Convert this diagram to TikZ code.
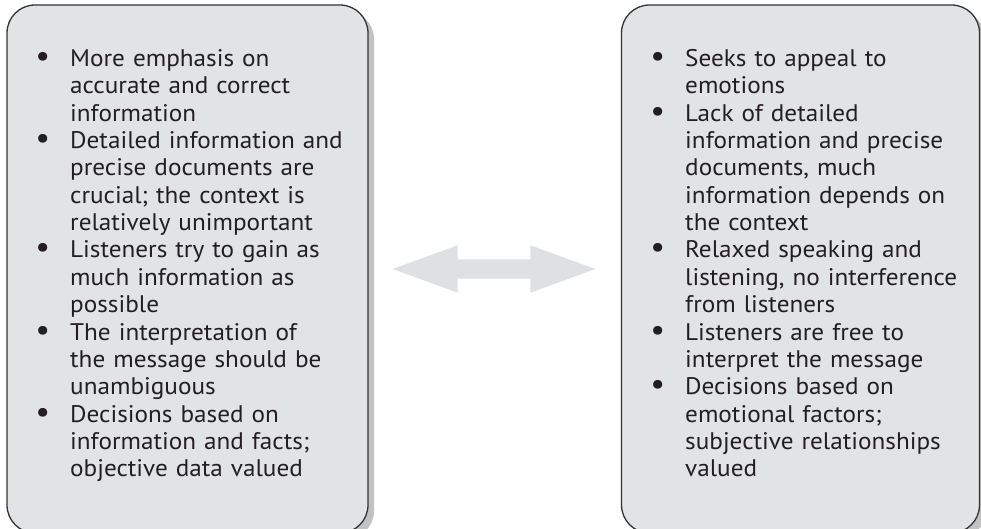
\documentclass[tikz,border=0pt]{standalone}
\usepackage{fontspec}
\setmainfont[FakeStretch=1.05]{PT Sans}
\usepackage{xcolor}
\usepackage{graphicx}
\usetikzlibrary{shapes.arrows,shadows,calc,positioning}
\definecolor{panelgray}{HTML}{E2E3E5}
\definecolor{arrowgray}{HTML}{DFE0E2}
\definecolor{inkgray}{HTML}{231F20}
\newcommand{\bitem}{\par\noindent\llap{\scalebox{1.3}{\textbullet}\hspace{20pt}}}

\begin{document}
\begin{tikzpicture}[
    x=1pt, y=-1pt,
    every node/.style={text=inkgray},
    panel/.style={
      rectangle, rounded corners=28pt, draw=black!80, line width=1.3pt,
      fill=panelgray, minimum width=361pt, minimum height=528pt,
      drop shadow={shadow xshift=6pt, shadow yshift=-6pt, fill=black!40, opacity=.6}
    },
    bullets/.style={
      anchor=north west, inner sep=0pt, text width=300pt, align=left,
      font=\fontsize{24}{27.35}\selectfont
    },
    link/.style={
      double arrow, fill=arrowgray, draw=none, inner xsep=0pt, inner ysep=9.5pt,
      minimum width=47pt, minimum height=203pt,
      double arrow head extend=14pt, double arrow tip angle=40
    }
  ]
    \clip (0,0) rectangle (981,529);

    % the two panels
    \node[panel] (lowctx) at (187.5,269) {};
    \node[panel, minimum width=358pt] (highctx) at (800.5,269) {};

    \node[bullets] (lowtext) at (70,39) {%
      \bitem More emphasis on\\accurate and correct\\information
      \bitem Detailed information and\\precise documents are\\crucial; the context is\\relatively unimportant
      \bitem Listeners try to gain as\\much information as\\possible
      \bitem The interpretation of\\the message should be\\unambiguous
      \bitem Decisions based on\\information and facts;\\objective data valued};

    \node[bullets] (hightext) at (685,39) {%
      \bitem Seeks to appeal to\\emotions
      \bitem Lack of detailed\\information and precise\\documents, much\\information depends on\\the context
      \bitem Relaxed speaking and\\listening, no interference\\from listeners
      \bitem Listeners are free to\\interpret the message
      \bitem Decisions based on\\emotional factors;\\subjective relationships\\valued};

    \node[link] (swap) at ($(lowctx)!.5!(highctx)$) {};
  \end{tikzpicture}
\end{document}
